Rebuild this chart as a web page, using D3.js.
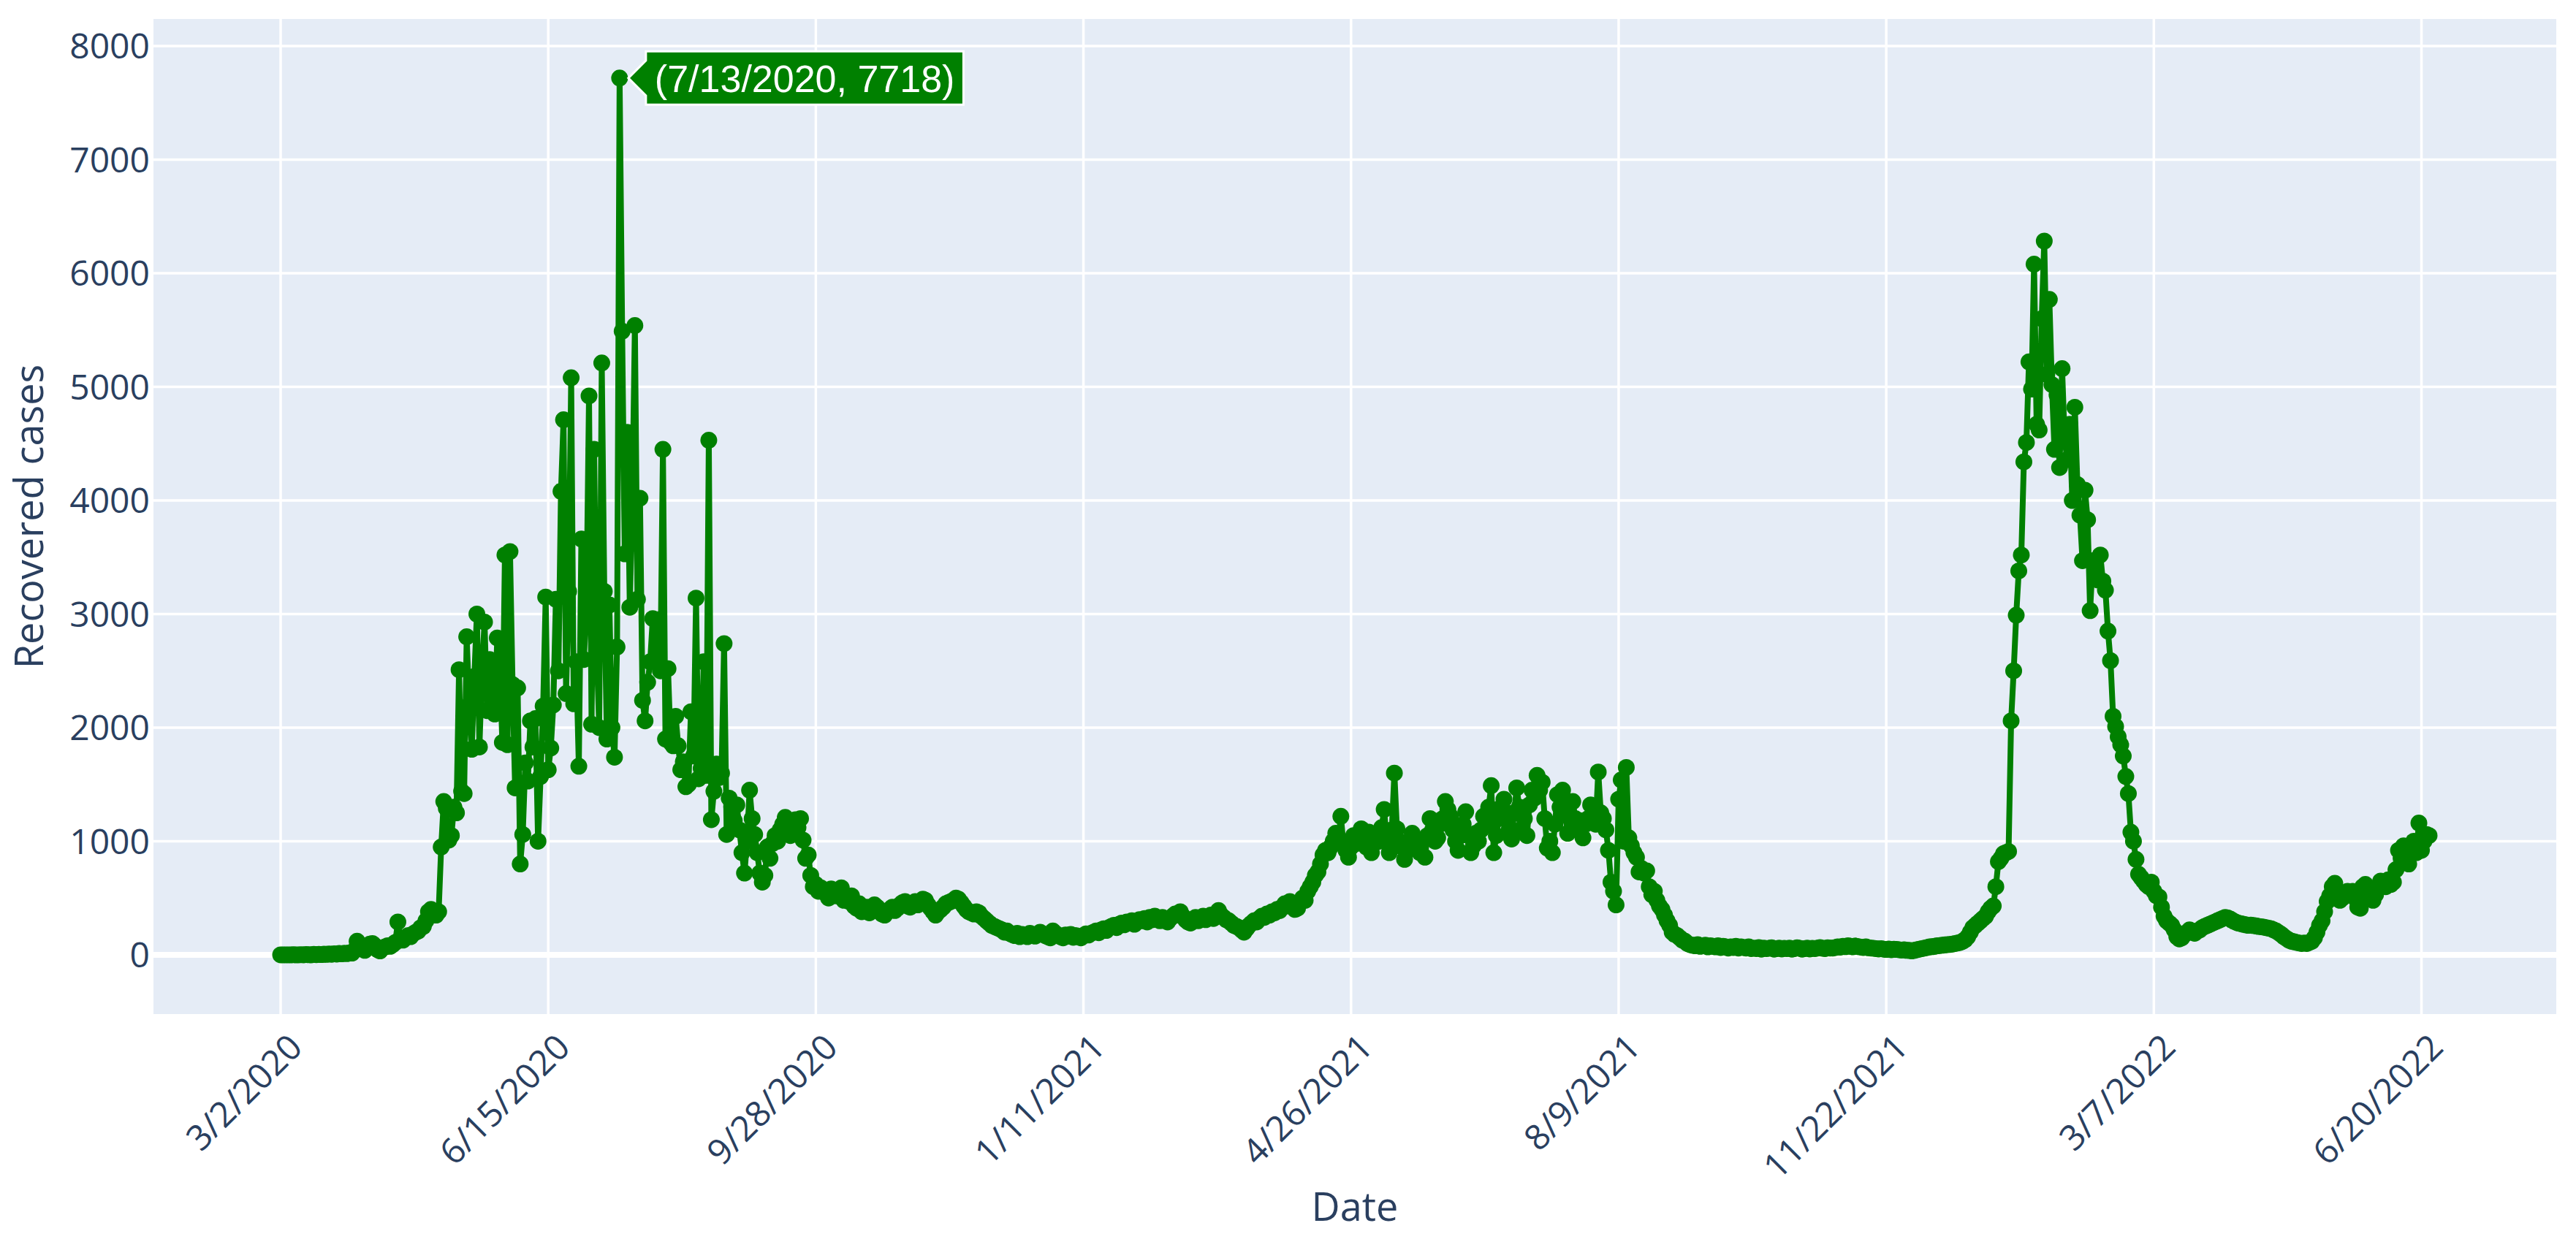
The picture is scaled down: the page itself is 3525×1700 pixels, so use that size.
<!DOCTYPE html>
<html><head><meta charset="utf-8">
<script src="https://cdn.jsdelivr.net/npm/d3@7"></script>
<style>html,body{margin:0;padding:0;background:#fff}</style>
</head><body>
<svg id="chart" width="3525" height="1700"></svg>
<script>
// ---------------- data ----------------
const startDate = "3/2/2020";
// daily recovered cases, 3/2/2020 .. 12/31/2020
const recovered2020 = [
  0,0,0,0,0,1,0,0,2,0,3,1,0,4,2,5,3,6,4,8,5,10,7,12,9,15,11,18,16,40,
  120,90,70,40,60,95,100,80,45,35,60,70,80,75,90,110,290,140,130,150,170,160,185,200,210,240,250,300,380,400,
  360,350,380,950,1350,1290,1010,1050,1300,1250,2510,1440,1420,2800,2200,1810,2450,3000,1830,2500,2930,2150,2600,2200,2120,2790,2500,1870,3520,1850,3550,
  2380,1470,2350,800,1060,1690,1530,2060,1830,2080,1000,1570,2190,3150,1630,1820,2200,3130,2500,4080,4710,2300,3200,5080,2210,2580,1660,3660,2600,3100,
  4920,2030,4450,2680,2000,5210,3200,1900,3080,2000,1740,2710,7718,5490,3530,4600,3060,4000,5540,3130,4020,2240,2060,2400,2580,2960,2580,2950,2500,4450,1900,
  2520,1870,1840,2100,1840,1630,1700,1480,1500,2140,1750,3140,1550,1640,2580,1580,4530,1190,1440,1680,1560,1600,2740,1060,1380,1300,1180,1320,1100,900,720,
  1000,1450,1200,1060,900,720,640,700,950,850,980,1050,1000,1100,1150,1210,1100,1050,1150,1190,1120,1200,1010,850,880,700,600,620,560,590,
  560,540,500,580,560,520,540,590,480,500,470,520,430,410,450,380,400,420,370,390,440,420,380,360,350,380,400,420,390,410,440,
  460,470,430,420,450,470,440,460,490,480,440,410,380,350,380,400,420,450,460,470,480,500,490,460,430,400,380,370,360,380,
  370,340,320,300,280,260,250,240,230,220,200,210,190,180,170,190,160,180,170,160,190,175,165,180,200,185,170,160,150,210,190
];
// daily recovered cases, 1/1/2021 .. 12/31/2021
const recovered2021 = [
  170,160,150,175,165,180,155,170,160,150,170,185,175,190,200,210,195,220,230,215,240,250,260,240,270,280,265,290,280,300,270,
  290,310,300,320,290,330,310,340,320,300,330,310,290,320,340,360,350,380,340,310,290,280,310,330,300,320,340,310,
  330,350,320,360,390,350,330,310,300,280,260,250,240,220,200,230,260,280,300,290,320,340,330,360,350,380,370,400,390,420,450,
  430,470,440,400,410,460,500,480,560,600,640,700,730,800,880,920,900,950,1000,1070,1000,1220,980,920,860,950,1050,980,1000,1110,
  1000,950,1080,900,980,1050,1000,1120,1280,1000,900,1100,1600,1110,1000,950,840,920,1000,1070,1020,960,900,1000,860,1050,1200,1100,1000,1030,1150,
  1200,1350,1280,1220,1100,1000,920,1050,1150,1260,1050,900,960,1070,1000,1100,1220,1150,1300,1490,900,1050,1200,1300,1370,1250,1100,1020,1250,1470,
  1300,1110,1200,1050,1320,1450,1380,1580,1450,1520,1200,940,1000,900,1150,1410,1300,1450,1250,1070,1200,1350,1200,1100,1180,1030,1150,1200,1320,1250,1150,
  1610,1250,1200,1100,920,640,560,440,1370,1540,1000,1650,1030,960,900,860,730,760,720,740,600,530,560,480,430,400,350,300,260,200,180,
  170,150,130,120,100,90,85,80,90,75,80,85,70,80,75,70,80,65,75,70,60,70,65,75,60,70,65,60,70,55,
  60,55,65,50,60,55,58,62,50,55,60,52,58,55,60,50,55,62,58,50,55,60,52,58,55,60,65,58,55,62,60,
  60,65,70,68,75,72,80,75,70,78,72,68,65,70,62,60,58,55,52,55,50,48,52,45,50,48,45,42,45,40,
  40,35,40,45,50,55,60,65,70,72,75,80,82,85,88,90,92,95,100,105,110,120,135,160,200,240,260,280,300,320,340
];
// daily recovered cases, 1/1/2022 .. 6/23/2022
const recovered2022 = [
  380,410,430,600,820,850,890,900,910,2060,2500,2990,3380,3520,4340,4510,5220,4980,6080,4670,4620,5600,6283,5110,5770,5020,4450,4930,4290,5160,4540,
  4360,4670,4000,4820,4140,3870,3470,4090,3830,3030,3470,3400,3300,3520,3290,3210,2850,2590,2100,2010,1920,1850,1750,1570,1420,1080,1000,840,
  710,680,650,620,600,640,560,520,510,420,340,300,280,260,220,160,140,150,180,200,220,200,190,210,220,240,250,260,270,280,290,
  300,310,320,330,325,315,300,290,280,275,270,265,260,262,258,255,250,248,245,240,235,230,220,210,195,180,160,145,130,120,
  115,110,105,100,105,100,110,120,150,200,260,300,380,470,520,600,630,560,480,500,540,560,530,560,500,420,410,600,620,540,500,
  480,530,600,650,640,600,660,620,640,750,920,850,960,900,800,960,1000,900,1160,920,1000,1060,1050
];
const xTickLabels = ["3/2/2020","6/15/2020","9/28/2020","1/11/2021","4/26/2021","8/9/2021","11/22/2021","3/7/2022","6/20/2022"];
const yTickValues = [0,1000,2000,3000,4000,5000,6000,7000,8000];
const peakDate = "7/13/2020";
const peakValue = 7718;
const peakText = "(7/13/2020, 7718)";
const xTitle = "Date";
const yTitle = "Recovered cases";

// ---------------- layout ----------------
const W = 3525, H = 1700;
const plot = {left: 210, right: 3498, top: 26, bottom: 1388};
const green = "#008000";
const fontColor = "#2a3f5f";
const tickFont = "'Open Sans', 'Noto Sans', sans-serif";

const parse = d3.utcParse("%m/%d/%Y");
const start = parse(startDate);
const values = recovered2020.concat(recovered2021, recovered2022);
const data = values.map((v, i) => ({date: d3.utcDay.offset(start, i), value: v}));

const DAY = 864e5;
const x = d3.scaleUtc()
  .domain([new Date(start.getTime() - 49.9 * DAY), new Date(start.getTime() + 892.9 * DAY)])
  .range([plot.left, plot.right]);
const y = d3.scaleLinear().domain([-521, 8238]).range([plot.bottom, plot.top]);

const svg = d3.select("#chart");
svg.append("rect").attr("width", W).attr("height", H).attr("fill", "#fff");
svg.append("rect")
  .attr("x", plot.left).attr("y", plot.top)
  .attr("width", plot.right - plot.left).attr("height", plot.bottom - plot.top)
  .attr("fill", "#E5ECF6");

const tickDates = xTickLabels.map(parse);

// grid
const grid = svg.append("g");
grid.selectAll(".vg").data(tickDates).join("line")
  .attr("x1", d => x(d)).attr("x2", d => x(d))
  .attr("y1", plot.top).attr("y2", plot.bottom)
  .attr("stroke", "#fff").attr("stroke-width", 3.5);
grid.selectAll(".hg").data(yTickValues.filter(v => v !== 0)).join("line")
  .attr("x1", plot.left).attr("x2", plot.right)
  .attr("y1", d => y(d)).attr("y2", d => y(d))
  .attr("stroke", "#fff").attr("stroke-width", 3.5);
grid.append("line")
  .attr("x1", plot.left).attr("x2", plot.right)
  .attr("y1", y(0)).attr("y2", y(0))
  .attr("stroke", "#fff").attr("stroke-width", 8);

// clip
svg.append("clipPath").attr("id", "clip").append("rect")
  .attr("x", plot.left).attr("y", plot.top)
  .attr("width", plot.right - plot.left).attr("height", plot.bottom - plot.top);

const g = svg.append("g").attr("clip-path", "url(#clip)");
const line = d3.line().x(d => x(d.date)).y(d => y(d.value));
g.append("path").datum(data)
  .attr("d", line).attr("fill", "none")
  .attr("stroke", green).attr("stroke-width", 8)
  .attr("stroke-linejoin", "round");
g.selectAll("circle").data(data).join("circle")
  .attr("cx", d => x(d.date)).attr("cy", d => y(d.value))
  .attr("r", 11.5).attr("fill", green);

// y tick labels
svg.append("g").selectAll("text").data(yTickValues).join("text")
  .attr("x", plot.left - 5).attr("y", d => y(d))
  .attr("dy", "0.36em")
  .attr("text-anchor", "end")
  .attr("font-family", tickFont).attr("font-size", 48)
  .attr("fill", fontColor)
  .text(d => String(d));

// x tick labels (rotated -45)
svg.append("g").selectAll("text").data(xTickLabels).join("text")
  .attr("transform", d => `translate(${x(parse(d)) + 8},${plot.bottom + 24}) rotate(-45)`)
  .attr("dy", "0.72em")
  .attr("text-anchor", "end")
  .attr("font-family", tickFont).attr("font-size", 48)
  .attr("fill", fontColor)
  .text(d => d);

// axis titles
svg.append("text")
  .attr("x", (plot.left + plot.right) / 2).attr("y", 1652)
  .attr("dy", "0.36em").attr("text-anchor", "middle")
  .attr("font-family", tickFont).attr("font-size", 54)
  .attr("fill", fontColor).text(xTitle);
svg.append("text")
  .attr("transform", `translate(40,${(plot.top + plot.bottom) / 2}) rotate(-90)`)
  .attr("dy", "0.36em").attr("text-anchor", "middle")
  .attr("font-family", tickFont).attr("font-size", 54)
  .attr("fill", fontColor).text(yTitle);

// hover-style label at the peak
const px = x(parse(peakDate)), py = y(peakValue);
const tipX = px + 12, arrow = 24, halfH = 36.5, padX = 12;
const hl = svg.append("g");
const htext = hl.append("text")
  .attr("x", tipX + arrow + padX).attr("y", py)
  .attr("dy", "0.36em")
  .attr("font-family", "Arial, 'Liberation Sans', sans-serif")
  .attr("font-size", 52).attr("fill", "#fff")
  .text(peakText);
const tw = htext.node().getComputedTextLength();
const right = tipX + arrow + padX * 2 + tw;
hl.insert("path", "text")
  .attr("d", `M${tipX},${py}L${tipX + arrow},${py + arrow}V${py + halfH}H${right}V${py - halfH}H${tipX + arrow}V${py - arrow}Z`)
  .attr("fill", green).attr("stroke", "#fff").attr("stroke-width", 3);
</script>
</body></html>
